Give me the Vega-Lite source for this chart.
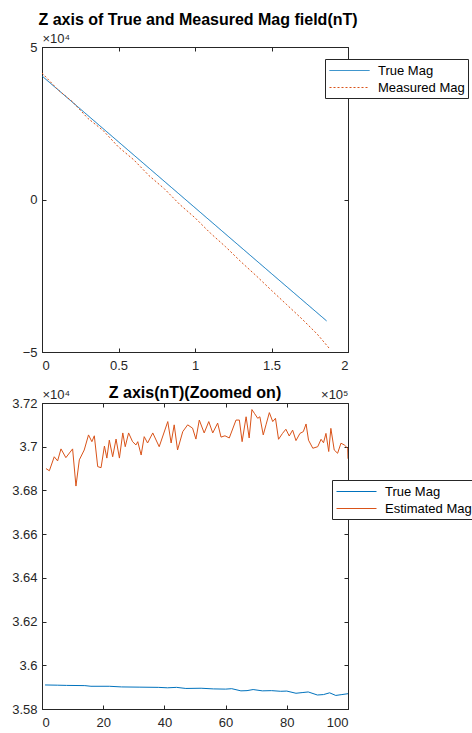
{
  "$schema": "https://vega.github.io/schema/vega-lite/v6.json",
  "background": "white",
  "padding": {"left": 11, "top": 11, "right": 0, "bottom": 5},
  "bounds": "flush",
  "spacing": 51,
  "datasets": {
    "top": [
      {"x": 0, "y": 4.05, "series": "True Mag"},
      {"x": 0.5, "y": 1.89, "series": "True Mag"},
      {"x": 1.0, "y": -0.27, "series": "True Mag"},
      {"x": 1.5, "y": -2.43, "series": "True Mag"},
      {"x": 1.86, "y": -3.98, "series": "True Mag"},
      {"x": 0, "y": 4.15, "series": "Measured Mag"},
      {"x": 0.1, "y": 3.62, "series": "Measured Mag"},
      {"x": 0.2, "y": 3.2, "series": "Measured Mag"},
      {"x": 0.3, "y": 2.66, "series": "Measured Mag"},
      {"x": 0.4, "y": 2.26, "series": "Measured Mag"},
      {"x": 0.5, "y": 1.72, "series": "Measured Mag"},
      {"x": 0.6, "y": 1.3, "series": "Measured Mag"},
      {"x": 0.7, "y": 0.78, "series": "Measured Mag"},
      {"x": 0.8, "y": 0.35, "series": "Measured Mag"},
      {"x": 0.9, "y": -0.16, "series": "Measured Mag"},
      {"x": 1.0, "y": -0.6, "series": "Measured Mag"},
      {"x": 1.1, "y": -1.1, "series": "Measured Mag"},
      {"x": 1.2, "y": -1.55, "series": "Measured Mag"},
      {"x": 1.3, "y": -2.04, "series": "Measured Mag"},
      {"x": 1.4, "y": -2.5, "series": "Measured Mag"},
      {"x": 1.5, "y": -2.98, "series": "Measured Mag"},
      {"x": 1.6, "y": -3.45, "series": "Measured Mag"},
      {"x": 1.7, "y": -3.92, "series": "Measured Mag"},
      {"x": 1.8, "y": -4.42, "series": "Measured Mag"},
      {"x": 1.876, "y": -4.87, "series": "Measured Mag"}
    ],
    "bottom": [
      {"x": 1, "y": 3.591, "series": "True Mag"},
      {"x": 5, "y": 3.5909, "series": "True Mag"},
      {"x": 8, "y": 3.5908, "series": "True Mag"},
      {"x": 14, "y": 3.5907, "series": "True Mag"},
      {"x": 16, "y": 3.5904, "series": "True Mag"},
      {"x": 22, "y": 3.5904, "series": "True Mag"},
      {"x": 26, "y": 3.5901, "series": "True Mag"},
      {"x": 32, "y": 3.59, "series": "True Mag"},
      {"x": 38, "y": 3.5899, "series": "True Mag"},
      {"x": 41, "y": 3.5897, "series": "True Mag"},
      {"x": 44, "y": 3.5899, "series": "True Mag"},
      {"x": 47, "y": 3.5894, "series": "True Mag"},
      {"x": 52, "y": 3.5895, "series": "True Mag"},
      {"x": 56, "y": 3.5892, "series": "True Mag"},
      {"x": 60, "y": 3.5891, "series": "True Mag"},
      {"x": 62, "y": 3.5893, "series": "True Mag"},
      {"x": 65, "y": 3.5883, "series": "True Mag"},
      {"x": 67, "y": 3.5884, "series": "True Mag"},
      {"x": 69, "y": 3.5889, "series": "True Mag"},
      {"x": 72, "y": 3.5883, "series": "True Mag"},
      {"x": 75, "y": 3.5884, "series": "True Mag"},
      {"x": 78, "y": 3.5881, "series": "True Mag"},
      {"x": 80, "y": 3.5882, "series": "True Mag"},
      {"x": 83, "y": 3.5872, "series": "True Mag"},
      {"x": 85, "y": 3.5875, "series": "True Mag"},
      {"x": 87, "y": 3.5878, "series": "True Mag"},
      {"x": 90, "y": 3.5864, "series": "True Mag"},
      {"x": 92, "y": 3.5866, "series": "True Mag"},
      {"x": 94, "y": 3.5874, "series": "True Mag"},
      {"x": 96, "y": 3.5862, "series": "True Mag"},
      {"x": 98, "y": 3.5866, "series": "True Mag"},
      {"x": 100, "y": 3.587, "series": "True Mag"},
      {"x": 1.3, "y": 3.69, "series": "Estimated Mag"},
      {"x": 2.4, "y": 3.689, "series": "Estimated Mag"},
      {"x": 4.0, "y": 3.6954, "series": "Estimated Mag"},
      {"x": 5.1, "y": 3.6935, "series": "Estimated Mag"},
      {"x": 6.2, "y": 3.699, "series": "Estimated Mag"},
      {"x": 7.8, "y": 3.695, "series": "Estimated Mag"},
      {"x": 10, "y": 3.699, "series": "Estimated Mag"},
      {"x": 11.1, "y": 3.682, "series": "Estimated Mag"},
      {"x": 12.2, "y": 3.694, "series": "Estimated Mag"},
      {"x": 13.8, "y": 3.6985, "series": "Estimated Mag"},
      {"x": 15.2, "y": 3.7054, "series": "Estimated Mag"},
      {"x": 16.3, "y": 3.7023, "series": "Estimated Mag"},
      {"x": 17.1, "y": 3.705, "series": "Estimated Mag"},
      {"x": 18.2, "y": 3.6909, "series": "Estimated Mag"},
      {"x": 19.3, "y": 3.6904, "series": "Estimated Mag"},
      {"x": 20.4, "y": 3.7003, "series": "Estimated Mag"},
      {"x": 21.2, "y": 3.6948, "series": "Estimated Mag"},
      {"x": 22, "y": 3.703, "series": "Estimated Mag"},
      {"x": 23.1, "y": 3.6954, "series": "Estimated Mag"},
      {"x": 24.2, "y": 3.7035, "series": "Estimated Mag"},
      {"x": 25.3, "y": 3.6948, "series": "Estimated Mag"},
      {"x": 26.4, "y": 3.7063, "series": "Estimated Mag"},
      {"x": 27.2, "y": 3.7, "series": "Estimated Mag"},
      {"x": 28.3, "y": 3.7063, "series": "Estimated Mag"},
      {"x": 29.6, "y": 3.7023, "series": "Estimated Mag"},
      {"x": 30.7, "y": 3.7008, "series": "Estimated Mag"},
      {"x": 31.3, "y": 3.7023, "series": "Estimated Mag"},
      {"x": 32.4, "y": 3.6962, "series": "Estimated Mag"},
      {"x": 33.4, "y": 3.7046, "series": "Estimated Mag"},
      {"x": 34.5, "y": 3.7017, "series": "Estimated Mag"},
      {"x": 36.2, "y": 3.7063, "series": "Estimated Mag"},
      {"x": 38.3, "y": 3.7, "series": "Estimated Mag"},
      {"x": 41.1, "y": 3.7115, "series": "Estimated Mag"},
      {"x": 42.2, "y": 3.7017, "series": "Estimated Mag"},
      {"x": 43.2, "y": 3.71, "series": "Estimated Mag"},
      {"x": 44.3, "y": 3.6985, "series": "Estimated Mag"},
      {"x": 46, "y": 3.7069, "series": "Estimated Mag"},
      {"x": 47.6, "y": 3.71, "series": "Estimated Mag"},
      {"x": 49.2, "y": 3.7085, "series": "Estimated Mag"},
      {"x": 50.3, "y": 3.7035, "series": "Estimated Mag"},
      {"x": 51.4, "y": 3.7122, "series": "Estimated Mag"},
      {"x": 53, "y": 3.7063, "series": "Estimated Mag"},
      {"x": 54.5, "y": 3.7115, "series": "Estimated Mag"},
      {"x": 55.8, "y": 3.7063, "series": "Estimated Mag"},
      {"x": 57.4, "y": 3.7108, "series": "Estimated Mag"},
      {"x": 58.5, "y": 3.7044, "series": "Estimated Mag"},
      {"x": 59.8, "y": 3.705, "series": "Estimated Mag"},
      {"x": 61.2, "y": 3.704, "series": "Estimated Mag"},
      {"x": 63.4, "y": 3.7122, "series": "Estimated Mag"},
      {"x": 64.5, "y": 3.7122, "series": "Estimated Mag"},
      {"x": 65.4, "y": 3.7023, "series": "Estimated Mag"},
      {"x": 66.7, "y": 3.7137, "series": "Estimated Mag"},
      {"x": 67.7, "y": 3.704, "series": "Estimated Mag"},
      {"x": 68.6, "y": 3.717, "series": "Estimated Mag"},
      {"x": 69.4, "y": 3.7153, "series": "Estimated Mag"},
      {"x": 70.5, "y": 3.713, "series": "Estimated Mag"},
      {"x": 71.2, "y": 3.7137, "series": "Estimated Mag"},
      {"x": 72.3, "y": 3.7054, "series": "Estimated Mag"},
      {"x": 73.2, "y": 3.71, "series": "Estimated Mag"},
      {"x": 74.3, "y": 3.7156, "series": "Estimated Mag"},
      {"x": 75.4, "y": 3.7115, "series": "Estimated Mag"},
      {"x": 76.3, "y": 3.713, "series": "Estimated Mag"},
      {"x": 77.3, "y": 3.7034, "series": "Estimated Mag"},
      {"x": 78.6, "y": 3.7061, "series": "Estimated Mag"},
      {"x": 79.7, "y": 3.708, "series": "Estimated Mag"},
      {"x": 80.8, "y": 3.7049, "series": "Estimated Mag"},
      {"x": 81.9, "y": 3.7076, "series": "Estimated Mag"},
      {"x": 83, "y": 3.7028, "series": "Estimated Mag"},
      {"x": 84.3, "y": 3.7061, "series": "Estimated Mag"},
      {"x": 85.4, "y": 3.7069, "series": "Estimated Mag"},
      {"x": 86.3, "y": 3.7104, "series": "Estimated Mag"},
      {"x": 87.1, "y": 3.703, "series": "Estimated Mag"},
      {"x": 88.5, "y": 3.6993, "series": "Estimated Mag"},
      {"x": 90.1, "y": 3.7, "series": "Estimated Mag"},
      {"x": 91.2, "y": 3.7034, "series": "Estimated Mag"},
      {"x": 92, "y": 3.7018, "series": "Estimated Mag"},
      {"x": 92.8, "y": 3.7061, "series": "Estimated Mag"},
      {"x": 93.7, "y": 3.6978, "series": "Estimated Mag"},
      {"x": 94.4, "y": 3.7084, "series": "Estimated Mag"},
      {"x": 95.5, "y": 3.6985, "series": "Estimated Mag"},
      {"x": 96.6, "y": 3.697, "series": "Estimated Mag"},
      {"x": 97.7, "y": 3.7016, "series": "Estimated Mag"},
      {"x": 98.8, "y": 3.7008, "series": "Estimated Mag"},
      {"x": 99.9, "y": 3.6993, "series": "Estimated Mag"},
      {"x": 100, "y": 3.6945, "series": "Estimated Mag"}
    ]
  },
  "vconcat": [
    {
      "width": 306,
      "height": 305,
      "title": {"text": "Z axis of True and Measured Mag field(nT)", "offset": 4, "dx": 3},
      "data": {"name": "top"},
      "layer": [
        {
          "mark": {"type": "line", "strokeWidth": 1, "clip": true},
          "encoding": {
            "x": {"field": "x", "type": "quantitative", "scale": {"domain": [0, 2], "nice": false},
              "axis": {"values": [0, 0.5, 1, 1.5, 2], "format": "~g", "title": "×10⁵", "titleAnchor": "end", "titleAlign": "right", "titleX": 306, "titleY": 46, "titleBaseline": "alphabetic"}},
            "y": {"field": "y", "type": "quantitative", "scale": {"domain": [-5, 5], "nice": false},
              "axis": {"values": [-5, 0, 5], "format": "~g", "title": "×10⁴", "titleAngle": 0, "titleAlign": "left", "titleX": 0, "titleY": -5, "titleBaseline": "alphabetic"}},
            "color": {"field": "series", "type": "nominal",
              "scale": {"domain": ["True Mag", "Measured Mag"], "range": ["#0072BD", "#D95319"]},
              "legend": {"title": null, "legendX": 283, "legendY": 12}},
            "strokeDash": {"field": "series", "type": "nominal",
              "scale": {"domain": ["True Mag", "Measured Mag"], "range": [[1, 0], [2, 2]]},
              "legend": {"title": null, "legendX": 283, "legendY": 12}}
          }
        },
        {
          "mark": {"type": "point", "opacity": 0},
          "encoding": {
            "x": {"field": "x", "type": "quantitative", "scale": {"domain": [0, 2], "nice": false},
              "axis": {"orient": "top", "values": [0, 0.5, 1, 1.5, 2], "labels": false, "domain": false, "title": null}},
            "y": {"field": "y", "type": "quantitative", "scale": {"domain": [-5, 5], "nice": false},
              "axis": {"orient": "right", "values": [-5, 0, 5], "labels": false, "domain": false, "title": null}}
          }
        }
      ],
      "resolve": {"axis": {"x": "independent", "y": "independent"}}
    },
    {
      "width": 306,
      "height": 306,
      "title": {"text": "Z axis(nT)(Zoomed on)", "offset": -13},
      "data": {"name": "bottom"},
      "layer": [
        {
          "mark": {"type": "line", "strokeWidth": 1, "clip": true},
          "encoding": {
            "x": {"field": "x", "type": "quantitative", "scale": {"domain": [0, 100], "nice": false},
              "axis": {"values": [0, 20, 40, 60, 80, 100], "title": null}},
            "y": {"field": "y", "type": "quantitative", "scale": {"domain": [3.58, 3.72], "nice": false, "zero": false},
              "axis": {"values": [3.58, 3.6, 3.62, 3.64, 3.66, 3.68, 3.7, 3.72], "format": ".3~g", "title": "×10⁴", "titleAngle": 0, "titleAlign": "left", "titleX": 0, "titleY": -5, "titleBaseline": "alphabetic"}},
            "color": {"field": "series", "type": "nominal",
              "scale": {"domain": ["True Mag", "Estimated Mag"], "range": ["#0072BD", "#D95319"]},
              "legend": {"title": null, "legendX": 290, "legendY": 77}}
          }
        },
        {
          "mark": {"type": "point", "opacity": 0},
          "encoding": {
            "x": {"field": "x", "type": "quantitative", "scale": {"domain": [0, 100], "nice": false},
              "axis": {"orient": "top", "values": [0, 20, 40, 60, 80, 100], "labels": false, "domain": false, "title": null}},
            "y": {"field": "y", "type": "quantitative", "scale": {"domain": [3.58, 3.72], "nice": false, "zero": false},
              "axis": {"orient": "right", "values": [3.58, 3.6, 3.62, 3.64, 3.66, 3.68, 3.7, 3.72], "labels": false, "domain": false, "title": null}}
          }
        }
      ],
      "resolve": {"axis": {"x": "independent", "y": "independent"}, "scale": {"color": "independent"}}
    }
  ],
  "resolve": {"scale": {"color": "independent", "strokeDash": "independent"}, "legend": {"color": "independent"}},
  "config": {
    "view": {"stroke": "#262626", "strokeWidth": 1},
    "axis": {
      "grid": false,
      "domainColor": "#262626",
      "tickColor": "#262626",
      "tickSize": -4,
      "labelColor": "#262626",
      "labelFont": "Liberation Sans",
      "labelFontSize": 13,
      "titleFont": "Liberation Sans",
      "titleFontSize": 13,
      "titleFontWeight": "normal",
      "titleColor": "#262626"
    },
    "axisX": {"labelPadding": 11},
    "axisY": {"labelPadding": 9},
    "title": {"font": "Liberation Sans", "fontSize": 16, "fontWeight": "bold", "color": "#000000", "anchor": "middle"},
    "legend": {
      "orient": "none",
      "symbolType": "M-2.5,0H2.5",
      "symbolSize": 256,
      "symbolOffset": 13,
      "symbolStrokeWidth": 1,
      "strokeColor": "#262626",
      "fillColor": "white",
      "padding": 3,
      "labelFont": "Liberation Sans",
      "labelFontSize": 13,
      "labelColor": "#000000",
      "labelOffset": 20,
      "rowPadding": 1
    }
  }
}
